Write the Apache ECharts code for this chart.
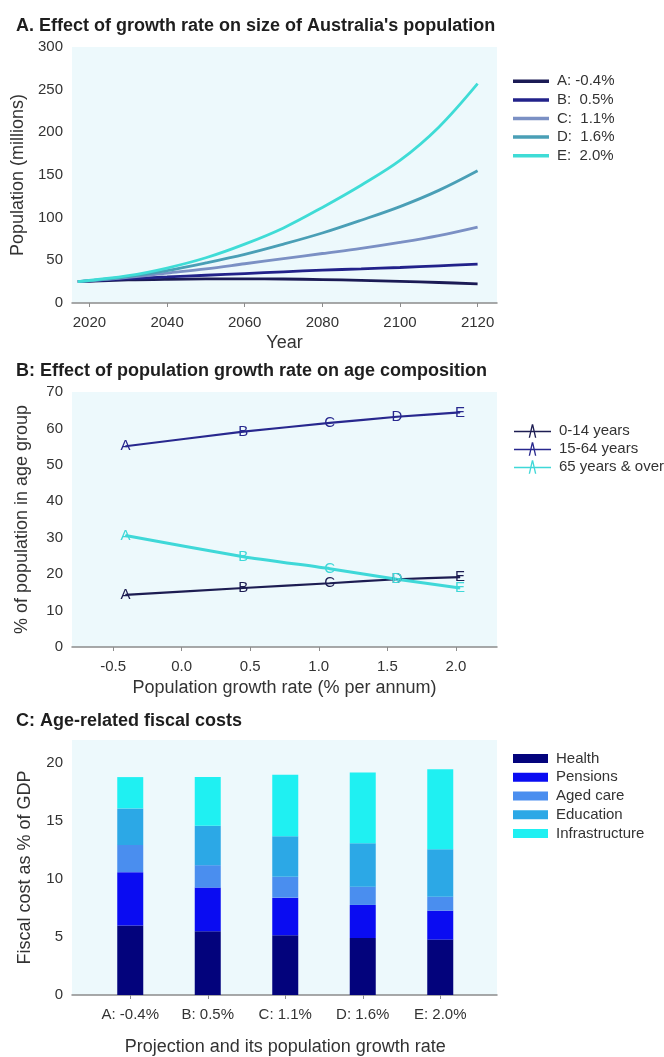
<!DOCTYPE html>
<html>
<head>
<meta charset="utf-8">
<script src="https://cdn.jsdelivr.net/npm/echarts@6/dist/echarts.min.js"></script>
<style>
  html, body { margin: 0; padding: 0; background: #ffffff; }
  #chart { width: 664px; height: 1057px; }
</style>
</head>
<body>
<div id="chart"></div>
<script>
// ---- Panel A: projected population (millions) by year ----
const years = [2017, 2030, 2040, 2050, 2060, 2070, 2080, 2090, 2100, 2110, 2120];
const yearTicks = [2020, 2040, 2060, 2080, 2100, 2120];
const scenarioNames = ['A: -0.4%', 'B:  0.5%', 'C:  1.1%', 'D:  1.6%', 'E:  2.0%'];
const popA = [25, 27, 27.8, 28.2, 28.3, 28.1, 27.5, 26.5, 25.3, 24, 22.5];
const popB = [25, 28.5, 30.5, 32.5, 34.5, 36.5, 38.5, 40, 41.6, 43.6, 45.6];
const popC = [25, 30, 35, 40, 46, 52, 58, 64, 71, 79, 89];
const popD = [25, 31, 38, 47, 57, 69, 82, 97, 113, 132, 155];
const popE = [25, 32, 41, 53, 69, 88, 112, 138, 167, 206, 257];

// ---- Panel B: age composition (%) against growth rate ----
const projections = ['A', 'B', 'C', 'D', 'E'];
const growthRates = [-0.41, 0.45, 1.08, 1.57, 2.03];
const rateTicks = [-0.5, 0, 0.5, 1, 1.5, 2];
const ageGroups = ['0-14 years', '15-64 years', '65 years & over'];
const age0to14 = [14.3, 16.2, 17.5, 18.6, 19.2];
const age15to64 = [55.1, 59.1, 61.5, 63.2, 64.4];
const age65plus = [30.6, 24.8, 21.5, 18.6, 16.2];

// ---- Panel C: age-related fiscal costs (% of GDP) ----
const costCategories = ['A: -0.4%', 'B: 0.5%', 'C: 1.1%', 'D: 1.6%', 'E: 2.0%'];
const costItems = ['Health', 'Pensions', 'Aged care', 'Education', 'Infrastructure'];
const health = [6.0, 5.5, 5.15, 4.92, 4.78];
const pensions = [4.6, 3.77, 3.25, 2.85, 2.5];
const agedCare = [2.35, 1.93, 1.8, 1.58, 1.2];
const education = [3.15, 3.4, 3.5, 3.75, 4.1];
const infrastructure = [2.7, 4.2, 5.3, 6.1, 6.9];

const FONT = "'Liberation Sans', Arial, sans-serif";
const TXT = '#333333';
const AXIS = '#8c8c8c';
const PLOT_BG = '#edf9fc';

const popColors = ['#1b1b55', '#22228a', '#7b90c4', '#4a9fb6', '#3fdcd6'];
const ageColors = ['#1d1d52', '#28288e', '#3fd8d8'];
const costColors = ['#03037c', '#0a0cf2', '#4a8eef', '#2ca8e6', '#1ff0f2'];

const gridBox = { left: 72, width: 425, show: true, backgroundColor: PLOT_BG, borderWidth: 0 };
const nameStyle = { fontFamily: FONT, fontSize: 18, color: TXT };
const tickText = { fontFamily: FONT, fontSize: 15, color: TXT };

function xValueAxis(gridIndex, min, max, ticks, fmt, nameGap, name) {
  return {
    type: 'value', gridIndex, min, max, name, nameLocation: 'middle', nameGap,
    nameTextStyle: nameStyle,
    axisLine: { show: true, onZero: false, lineStyle: { color: AXIS, width: 1.5 } },
    axisTick: { show: true, length: 4, customValues: ticks, lineStyle: { color: AXIS } },
    axisLabel: Object.assign({ customValues: ticks, formatter: fmt, margin: 12 }, tickText),
    splitLine: { show: false }
  };
}
function yValueAxis(gridIndex, min, max, ticks, nameGap, name) {
  return {
    type: 'value', gridIndex, min, max, name, nameLocation: 'middle', nameGap,
    nameTextStyle: nameStyle,
    axisLine: { show: false }, axisTick: { show: false },
    axisLabel: Object.assign({ customValues: ticks, margin: 9 }, tickText),
    splitLine: { show: false }
  };
}
function zip(xs, ys) { return xs.map((x, i) => [x, ys[i]]); }

const titleStyle = { fontFamily: FONT, fontSize: 18, fontWeight: 'bold', color: '#1e1e1e' };

// line-with-letter icon used by the age legend
const letterIcon = 'path://M0,7.2h36v1.6h-36z M14.3,14 L17.3,1 L18.7,1 L21.7,14 L20.4,14 L18,3.6 L15.6,14 Z';

const popSeries = [popA, popB, popC, popD, popE].map((vals, i) => ({
  name: scenarioNames[i], type: 'line', xAxisIndex: 0, yAxisIndex: 0,
  data: zip(years, vals), smooth: 0.35, showSymbol: false, symbol: 'none',
  lineStyle: { width: 2.8, color: popColors[i] }, itemStyle: { color: popColors[i] }
}));

const ageSeries = [age0to14, age15to64, age65plus].map((vals, i) => ({
  name: ageGroups[i], type: 'line', xAxisIndex: 1, yAxisIndex: 1,
  data: zip(growthRates, vals), smooth: 0.15,
  symbol: 'circle', symbolSize: 1, showSymbol: true,
  lineStyle: { width: i === 2 ? 3 : 2.2, color: ageColors[i] }, itemStyle: { color: ageColors[i] },
  label: {
    show: true, position: 'inside', formatter: p => projections[p.dataIndex],
    fontFamily: FONT, fontSize: 15, color: ageColors[i]
  }
}));

// bars live in an inner grid (index 3) whose category bands are narrower than the shaded plot
const costSeries = [health, pensions, agedCare, education, infrastructure].map((vals, i) => ({
  name: costItems[i], type: 'bar', stack: 'cost', xAxisIndex: 3, yAxisIndex: 3,
  data: vals, barWidth: 26,
  itemStyle: { color: costColors[i] }
}));

const option = {
  animation: false,
  backgroundColor: '#ffffff',
  textStyle: { fontFamily: FONT },
  title: [
    { text: "A. Effect of growth rate on size of Australia's population", left: 11, top: 12, textStyle: titleStyle },
    { text: 'B: Effect of population growth rate on age composition', left: 11, top: 357, textStyle: titleStyle },
    { text: 'C: Age-related fiscal costs', left: 11, top: 707, textStyle: titleStyle }
  ],
  grid: [
    Object.assign({ top: 47, height: 256 }, gridBox),
    Object.assign({ top: 392, height: 255 }, gridBox),
    Object.assign({ top: 740, height: 255 }, gridBox),
    { left: 91.5, width: 387.5, top: 740, height: 255, show: false }
  ],
  xAxis: [
    xValueAxis(0, 2015.5, 2125, yearTicks, v => String(v), 31, 'Year'),
    xValueAxis(1, -0.8, 2.3, rateTicks, v => v.toFixed(1), 32, 'Population growth rate (% per annum)'),
    // shaded frame of panel C: only its base line is drawn
    {
      type: 'value', gridIndex: 2, min: 0, max: 1,
      axisLine: { show: true, onZero: false, lineStyle: { color: AXIS, width: 1.5 } },
      axisTick: { show: false }, axisLabel: { show: false }, splitLine: { show: false }
    },
    {
      type: 'category', gridIndex: 3, data: costCategories, boundaryGap: true,
      name: 'Projection and its population growth rate', nameLocation: 'middle', nameGap: 43,
      nameTextStyle: nameStyle,
      axisLine: { show: false },
      axisTick: { show: true, alignWithLabel: true, length: 4, lineStyle: { color: AXIS } },
      axisLabel: Object.assign({ margin: 12, interval: 0 }, tickText),
      splitLine: { show: false }
    }
  ],
  yAxis: [
    yValueAxis(0, 0, 300, [0, 50, 100, 150, 200, 250, 300], 40, 'Population (millions)'),
    yValueAxis(1, 0, 70, [0, 10, 20, 30, 40, 50, 60, 70], 41, '% of population in age group'),
    yValueAxis(2, 0, 22, [0, 5, 10, 15, 20], 38, 'Fiscal cost as % of GDP'),
    {
      type: 'value', gridIndex: 3, min: 0, max: 22,
      axisLine: { show: false }, axisTick: { show: false }, axisLabel: { show: false }, splitLine: { show: false }
    }
  ],
  legend: [
    {
      data: scenarioNames, orient: 'vertical', left: 513, top: 72, padding: 0, itemGap: 0,
      itemWidth: 36, itemHeight: 3.5, icon: 'rect',
      textStyle: { fontFamily: FONT, fontSize: 15, color: TXT, lineHeight: 18.6, padding: [0, 0, 0, 3] }
    },
    {
      data: ageGroups, orient: 'vertical', left: 514, top: 422, padding: 0, itemGap: 0,
      itemWidth: 37, itemHeight: 14, icon: letterIcon,
      textStyle: { fontFamily: FONT, fontSize: 15, color: TXT, lineHeight: 18, padding: [0, 0, 0, 3] }
    },
    {
      data: costItems, orient: 'vertical', left: 513, top: 749, padding: 0, itemGap: 0,
      itemWidth: 35, itemHeight: 9, icon: 'rect',
      textStyle: { fontFamily: FONT, fontSize: 15, color: TXT, lineHeight: 18.75, padding: [0, 0, 0, 3] }
    }
  ],
  series: popSeries.concat(ageSeries, costSeries)
};

const chart = echarts.init(document.getElementById('chart'), null, { renderer: 'canvas' });
chart.setOption(option);
</script>
</body>
</html>
